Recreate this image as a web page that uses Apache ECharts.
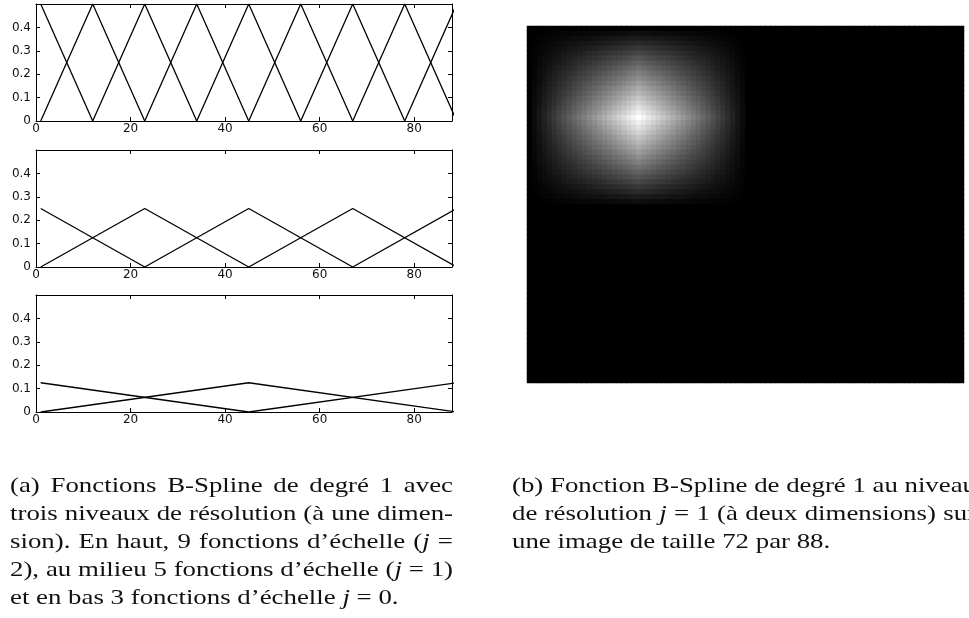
<!DOCTYPE html>
<html><head><meta charset="utf-8">
<script src="https://cdn.jsdelivr.net/npm/echarts@6/dist/echarts.min.js"></script>
<style>html,body{margin:0;padding:0;background:#fff}#c{width:969px;height:618px}</style>
</head><body><div id="c"></div><script>
// ---------- data ----------
// 1-D B-spline (degree 1) hat functions: knot positions (sample index) and peak heights
const knotsJ2 = [1, 12, 23, 34, 45, 56, 67, 78, 89];
const peaksJ2 = [0.5, 0.5, 0.5, 0.5, 0.5, 0.5, 0.5, 0.5, 0.5];
const knotsJ1 = [1, 23, 45, 67, 89];
const peaksJ1 = [0.25, 0.25, 0.25, 0.25, 0.25];
const knotsJ0 = [1, 45, 89];
const peaksJ0 = [0.125, 0.125, 0.125];
const xTickLabels = [0, 20, 40, 60, 80];
const yTickLabels = [0, 0.1, 0.2, 0.3, 0.4];
// 2-D function on a 72 x 88 image: column profile (cols 1..45) and row profile (rows 1..37), 0 elsewhere
const imgCols = 88, imgRows = 72;
const colProfile = [0, 0.045, 0.091, 0.136, 0.182, 0.227, 0.273, 0.318, 0.364, 0.409, 0.455, 0.5, 0.545, 0.591, 0.636, 0.682, 0.727, 0.773, 0.818, 0.864, 0.909, 0.955, 1,
  0.955, 0.909, 0.864, 0.818, 0.773, 0.727, 0.682, 0.636, 0.591, 0.545, 0.5, 0.455, 0.409, 0.364, 0.318, 0.273, 0.227, 0.182, 0.136, 0.091, 0.045, 0];
const rowProfile = [0, 0.056, 0.111, 0.167, 0.222, 0.278, 0.333, 0.389, 0.444, 0.5, 0.556, 0.611, 0.667, 0.722, 0.778, 0.833, 0.889, 0.944, 1,
  0.944, 0.889, 0.833, 0.778, 0.722, 0.667, 0.611, 0.556, 0.5, 0.444, 0.389, 0.333, 0.278, 0.222, 0.167, 0.111, 0.056, 0];
const captionA = [
  "(a) Fonctions B-Spline de degré 1 avec",
  "trois niveaux de résolution (à une dimen-",
  "sion). En haut, 9 fonctions d’échelle (*j* =",
  "2), au milieu 5 fonctions d’échelle (*j* = 1)",
  "et en bas 3 fonctions d’échelle *j* = 0."
];
const captionB = [
  "(b) Fonction B-Spline de degré 1 au niveau",
  "de résolution *j* = 1 (à deux dimensions) sur",
  "une image de taille 72 par 88."
];

// ---------- chart ----------
const chart = echarts.init(document.getElementById('c'), null, {renderer: 'canvas', width: 969, height: 618});
const AX_FONT = 'DejaVu Sans';
const AX_SIZE = 12;
const gridTops = [4, 150, 295];
const levels = [[knotsJ2, peaksJ2], [knotsJ1, peaksJ1], [knotsJ0, peaksJ0]];
const grid = [], xAxis = [], yAxis = [], series = [];
const xMax = 88;

levels.forEach(([knots, peaks], g) => {
  grid.push({left: 36, top: gridTops[g], width: 416, height: 117});
  const line = {show: true, onZero: false, lineStyle: {color: '#000', width: 1}};
  const tick = {show: true, inside: true, length: 4, lineStyle: {color: '#000', width: 1}};
  const xb = {gridIndex: g, type: 'value', min: 0, max: xMax, interval: 20, axisLine: line, axisTick: tick, splitLine: {show: false}};
  xAxis.push(Object.assign({}, xb, {position: 'bottom',
    axisLabel: {show: true, margin: 2, fontFamily: AX_FONT, fontSize: AX_SIZE, color: '#111',
      formatter: v => (xTickLabels.indexOf(v) >= 0 ? String(v) : '')}}));
  xAxis.push(Object.assign({}, xb, {position: 'top', axisLabel: {show: false}}));
  const yb = {gridIndex: g, type: 'value', min: 0, max: 0.5, interval: 0.1, axisLine: line, axisTick: tick, splitLine: {show: false}};
  yAxis.push(Object.assign({}, yb, {position: 'left',
    axisLabel: {show: true, margin: 5, fontFamily: AX_FONT, fontSize: AX_SIZE, color: '#111',
      formatter: v => { const r = Math.round(v * 10) / 10; return yTickLabels.indexOf(r) >= 0 ? String(r) : ''; }}}));
  yAxis.push(Object.assign({}, yb, {position: 'right', axisLabel: {show: false}}));
  knots.forEach((k, i) => {
    const pts = [];
    if (i > 0) pts.push([knots[i - 1], 0]);
    pts.push([k, peaks[i]]);
    if (i < knots.length - 1) pts.push([knots[i + 1], 0]);
    series.push({type: 'line', xAxisIndex: 2 * g, yAxisIndex: 2 * g, data: pts, showSymbol: false, symbol: 'none',
      silent: true, clip: true, lineStyle: {color: '#000', width: 1.3}, animation: false});
  });
});

// heatmap grid
const hg = grid.length;
grid.push({left: 527, top: 26, width: 437, height: 357, show: true, backgroundColor: '#000', borderWidth: 0});
const colCats = [], rowCats = [];
for (let c = 1; c <= imgCols; c++) colCats.push(String(c));
for (let r = 1; r <= imgRows; r++) rowCats.push(String(r));
xAxis.push({gridIndex: hg, type: 'category', data: colCats, show: false});
yAxis.push({gridIndex: hg, type: 'category', data: rowCats, inverse: true, show: false});
const heat = [];
for (let r = 0; r < imgRows; r++) {
  for (let c = 0; c < imgCols; c++) {
    const cv = c < colProfile.length ? colProfile[c] : 0;
    const rv = r < rowProfile.length ? rowProfile[r] : 0;
    heat.push([c, r, cv * rv]);
  }
}
const heatIdx = series.length;
series.push({type: 'heatmap', xAxisIndex: xAxis.length - 1, yAxisIndex: yAxis.length - 1, data: heat,
  progressive: 0, silent: true, itemStyle: {borderWidth: 0}, emphasis: {disabled: true}, animation: false});

// ---------- captions (justified word placement, horizontally stretched like the source) ----------
const CAP_FONT = '"Liberation Serif", "Times New Roman", serif';
const CAP_SIZE = 22;
const CAP_SX = 1.22;
const mctx = document.createElement('canvas').getContext('2d');
function segs(word) {
  const out = [];
  word.split('*').forEach((s, i) => { if (s) out.push([s, i % 2 === 1]); });
  return out;
}
function fontOf(it) { return (it ? 'italic ' : '') + CAP_SIZE + 'px ' + CAP_FONT; }
function segW(s) { mctx.font = fontOf(s[1]); return mctx.measureText(s[0]).width * CAP_SX; }
function layoutCaption(lines, x0, x1, base0, lead, justifyCount) {
  const els = [];
  lines.forEach((ln, li) => {
    const words = ln.split(' ').map(w => { const ss = segs(w); return {ss, w: ss.reduce((a, s) => a + segW(s), 0)}; });
    mctx.font = fontOf(false);
    const space = mctx.measureText(' ').width * CAP_SX;
    const tot = words.reduce((a, w) => a + w.w, 0);
    const gap = li < justifyCount && words.length > 1 ? (x1 - x0 - tot) / (words.length - 1) : space;
    let x = x0;
    const y = base0 + li * lead;
    words.forEach(w => {
      let sx = x;
      w.ss.forEach(s => {
        els.push({type: 'text', x: sx, y: y, scaleX: CAP_SX, silent: true,
          style: {text: s[0], font: fontOf(s[1]), fill: '#111', textAlign: 'left', textVerticalAlign: 'bottom', verticalAlign: 'bottom'}});
        sx += segW(s);
      });
      x += w.w + gap;
    });
  });
  return els;
}
const BASE_OFFSET = 5;
const graphic = [].concat(
  layoutCaption(captionA, 10, 453, 492 + BASE_OFFSET, 28, 4),
  layoutCaption(captionB, 512, 976, 492 + BASE_OFFSET, 28, 2)
);

chart.setOption({
  animation: false,
  backgroundColor: '#fff',
  grid, xAxis, yAxis, series,
  visualMap: {type: 'continuous', show: false, min: 0, max: 1, seriesIndex: heatIdx, dimension: 2,
    inRange: {color: ['#000000', '#ffffff']}},
  graphic
});
</script></body></html>
